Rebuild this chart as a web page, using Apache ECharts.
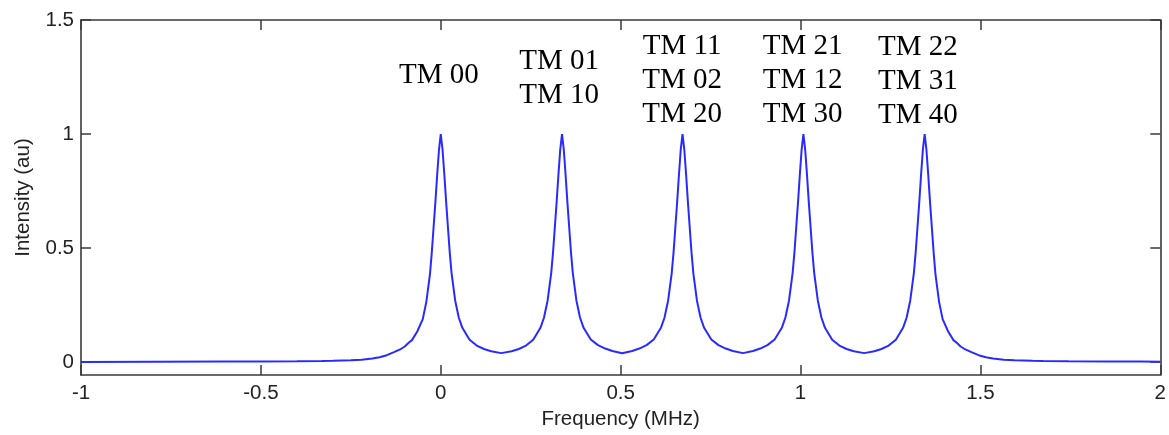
<!DOCTYPE html>
<html>
<head>
<meta charset="utf-8">
<script src="https://cdn.jsdelivr.net/npm/echarts@6/dist/echarts.min.js"></script>
<style>
  html,body{margin:0;padding:0;background:#fff;}
  #chart{width:1169px;height:435px;}
</style>
</head>
<body>
<div id="chart"></div>
<script>
"use strict";

// frequency samples (MHz)
var freq = [
  -1.0,-0.8,-0.6,-0.5,-0.4,-0.33,-0.3,-0.25,-0.22,-0.19,-0.17,-0.15,-0.13,-0.11,-0.1,-0.09,-0.08,-0.065,-0.05,-0.04,-0.03,-0.025,-0.02,-0.015,-0.01,-0.005,
  0,0.005,0.01,0.015,0.02,0.025,0.03,0.04,0.05,0.06,0.08,0.1,0.12,0.14,0.168,0.197,0.217,0.237,0.257,0.277,0.287,0.297,0.307,0.312,0.317,0.322,0.327,0.332,
  0.337,0.342,0.347,0.352,0.357,0.362,0.367,0.377,0.387,0.397,0.417,0.437,0.457,0.477,0.504,0.532,0.552,0.572,0.592,0.612,0.622,0.632,0.642,0.647,0.652,0.657,0.662,0.667,
  0.672,0.677,0.682,0.687,0.692,0.697,0.702,0.712,0.722,0.732,0.752,0.772,0.792,0.812,0.84,0.868,0.888,0.908,0.928,0.948,0.958,0.968,0.978,0.983,0.988,0.993,0.998,1.003,
  1.008,1.013,1.018,1.023,1.028,1.033,1.038,1.048,1.058,1.068,1.088,1.108,1.128,1.148,1.177,1.205,1.225,1.245,1.265,1.285,1.295,1.305,1.315,1.32,1.325,1.33,1.335,1.34,
  1.345,1.35,1.355,1.36,1.365,1.37,1.375,1.385,1.395,1.41,1.425,1.435,1.445,1.455,1.475,1.495,1.515,1.535,1.565,1.595,1.645,1.675,1.745,1.845,1.945,2.0
];

// intensity (au) at each sample
var intensity = [
  0.000,0.001,0.002,0.002,0.003,0.004,0.005,0.008,0.010,0.015,0.021,0.030,0.043,0.058,0.068,0.083,0.096,0.135,0.188,0.265,0.385,0.48,0.59,0.70,0.82,0.93,
  1.0,0.93,0.82,0.70,0.59,0.48,0.39,0.27,0.195,0.15,0.098,0.072,0.057,0.047,0.039,0.047,0.057,0.072,0.098,0.15,0.195,0.27,0.39,0.48,0.59,0.70,0.82,0.93,
  1.0,0.93,0.82,0.70,0.59,0.48,0.39,0.27,0.195,0.15,0.099,0.074,0.059,0.048,0.038,0.048,0.059,0.074,0.099,0.15,0.195,0.27,0.39,0.48,0.59,0.70,0.82,0.93,
  1.0,0.93,0.82,0.70,0.59,0.48,0.39,0.27,0.195,0.15,0.099,0.074,0.059,0.048,0.039,0.048,0.059,0.074,0.099,0.15,0.195,0.27,0.39,0.48,0.59,0.70,0.82,0.93,
  1.0,0.93,0.82,0.70,0.59,0.48,0.39,0.27,0.195,0.15,0.098,0.072,0.057,0.047,0.039,0.047,0.057,0.072,0.098,0.15,0.195,0.27,0.39,0.48,0.59,0.70,0.82,0.93,
  1.0,0.93,0.82,0.70,0.59,0.48,0.385,0.265,0.188,0.135,0.096,0.083,0.068,0.058,0.043,0.030,0.021,0.015,0.010,0.008,0.005,0.004,0.003,0.002,0.002,0.001
];

// mode annotations above each peak
var modeText = ['TM 00', 'TM 01\nTM 10', 'TM 11\nTM 02\nTM 20', 'TM 21\nTM 12\nTM 30', 'TM 22\nTM 31\nTM 40'];
var modeX = [-0.005, 0.329, 0.671, 1.006, 1.326];
var modeY = [1.258, 1.245, 1.237, 1.237, 1.231];

var yTicks = [0, 0.5, 1, 1.5];

var trace = freq.map(function(f, i){ return [f, intensity[i]]; });
var marks = modeText.map(function(t, i){ return {value:[modeX[i], modeY[i]], name:t}; });

var axisColor = '#3a3a3a';
var boxLine = {show:true, onZero:false, lineStyle:{color:axisColor, width:1.6}};
var inTick = {show:true, inside:true, length:10, lineStyle:{color:axisColor, width:1.5}};
var tickFont = {fontFamily:'Liberation Sans, Arial, sans-serif', fontSize:20.5, color:'#222'};

var chart = echarts.init(document.getElementById('chart'));
chart.setOption({
  animation:false,
  backgroundColor:'#fff',
  grid:{left:81, right:3, top:20, bottom:60},
  xAxis:[{
    type:'value', min:-1, max:2, interval:0.5, position:'bottom',
    axisLine:boxLine,
    axisTick:inTick,
    axisLabel:Object.assign({margin:8}, tickFont),
    splitLine:{show:false},
    name:'Frequency (MHz)', nameLocation:'middle', nameGap:33,
    nameTextStyle:tickFont
  },{
    type:'value', min:-1, max:2, interval:0.5, position:'top',
    axisLine:boxLine,
    axisTick:inTick,
    axisLabel:{show:false},
    splitLine:{show:false}
  }],
  yAxis:[{
    type:'value', min:-0.057, max:1.5, position:'left',
    axisLine:boxLine,
    axisTick:Object.assign({customValues:yTicks}, inTick),
    axisLabel:Object.assign({margin:7, customValues:yTicks}, tickFont),
    splitLine:{show:false},
    name:'Intensity (au)', nameLocation:'middle', nameGap:47,
    nameTextStyle:tickFont
  },{
    type:'value', min:-0.057, max:1.5, position:'right',
    axisLine:boxLine,
    axisTick:Object.assign({customValues:yTicks}, inTick),
    axisLabel:{show:false},
    splitLine:{show:false}
  }],
  series:[{
    type:'line', data:trace, showSymbol:false, smooth:false,
    lineStyle:{color:'#2a2aff', width:2}, silent:true
  },{
    type:'scatter', data:marks, symbolSize:0, silent:true,
    label:{
      show:true, position:[0, 0], align:'center', verticalAlign:'middle',
      formatter:function(p){ return p.name; },
      fontFamily:'Liberation Serif, Times New Roman, serif', fontSize:29, lineHeight:34,
      color:'#000', textBorderWidth:0, opacity:1
    }
  }]
});
</script>
</body>
</html>
